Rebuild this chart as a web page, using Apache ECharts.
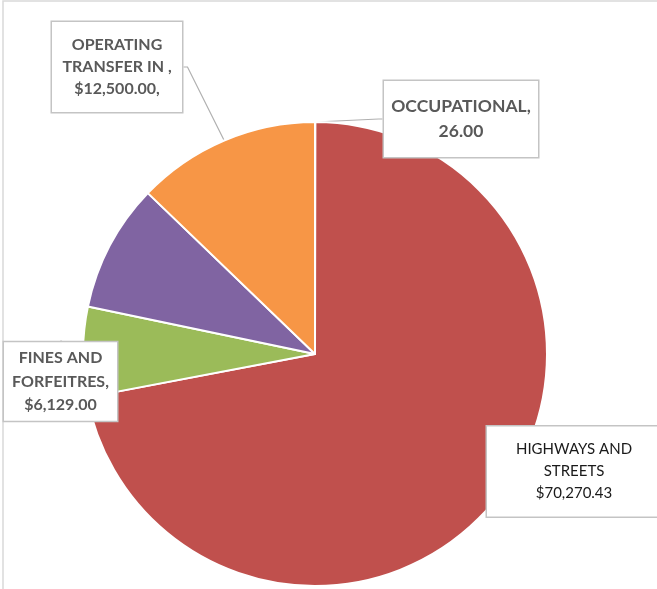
<!DOCTYPE html>
<html>
<head>
<meta charset="utf-8">
<script src="https://cdn.jsdelivr.net/npm/echarts@6/dist/echarts.min.js"></script>
<style>
  html, body { margin: 0; padding: 0; background: #fff; }
  #chart { width: 657px; height: 589px; }
</style>
</head>
<body>
<div id="chart"></div>
<script>
// Revenue by source
const categories = ['OCCUPATIONAL', 'HIGHWAYS AND STREETS', 'FINES AND FORFEITRES', 'OTHER', 'OPERATING TRANSFER IN '];
const values = [26.00, 70270.43, 6129.00, 8700.00, 12500.00];
const colors = ['#4F81BD', '#C0504D', '#9BBB59', '#8064A2', '#F79646'];

// Callout text for each slice (null = no label)
const labelTexts = [
  'OCCUPATIONAL,\n26.00',
  'HIGHWAYS AND\nSTREETS\n$70,270.43',
  'FINES AND\nFORFEITRES,\n$6,129.00',
  null,
  'OPERATING\nTRANSFER IN ,\n$12,500.00,'
];

// Callout box placement (centre of each box) and box styling
const calloutPos = [
  { x: 461, y: 119 },
  { x: 574, y: 471.5 },
  { x: 60.5, y: 381.5 },
  null,
  { x: 117, y: 67 }
];
const calloutStyle = [
  { fontSize: 17.5, fontWeight: 'bold', color: '#595959', lineHeight: 25, width: 154, padding: [13, 0] },
  { fontSize: 15, fontWeight: 'normal', color: '#1A1A1A', lineHeight: 22, width: 174, padding: [12, 0] },
  { fontSize: 16, fontWeight: 'bold', color: '#595959', lineHeight: 23.5, width: 113, padding: [4, 0] },
  null,
  { fontSize: 16, fontWeight: 'bold', color: '#595959', lineHeight: 22, width: 130, padding: [12, 0] }
];

const chart = echarts.init(document.getElementById('chart'), null, { renderer: 'canvas' });

const data = categories.map((name, i) => {
  const item = { name, value: values[i], itemStyle: { color: colors[i] } };
  if (labelTexts[i] === null) {
    item.label = { show: false };
    item.labelLine = { show: false };
  } else {
    const s = calloutStyle[i];
    item.label = {
      show: true,
      formatter: labelTexts[i],
      fontFamily: 'Lato',
      fontSize: s.fontSize,
      fontWeight: s.fontWeight,
      color: s.color,
      lineHeight: s.lineHeight,
      width: s.width,
      overflow: 'none',
      align: 'center',
      padding: s.padding,
      backgroundColor: '#FFFFFF',
      borderColor: '#C4C4C4',
      borderWidth: 1.5
    };
  }
  return item;
});

chart.setOption({
  animation: false,
  backgroundColor: '#FFFFFF',
  graphic: [{
    type: 'rect',
    shape: { x: 3, y: 1, width: 700, height: 700 },
    style: { fill: 'none', stroke: '#D9D9D9', lineWidth: 1.5 },
    silent: true,
    z: -1
  }],
  series: [{
    type: 'pie',
    center: [315, 354],
    radius: [0, 232],
    startAngle: 90,
    clockwise: true,
    avoidLabelOverlap: false,
    itemStyle: { borderColor: '#FFFFFF', borderWidth: 2 },
    label: { position: 'outside' },
    labelLine: {
      show: true,
      length: 6,
      length2: 4,
      lineStyle: { color: '#B0B0B0', width: 1.2 }
    },
    labelLayout: function (params) {
      const p = calloutPos[params.dataIndex];
      if (!p) return {};
      return { x: p.x, y: p.y, align: 'center', verticalAlign: 'middle' };
    },
    data: data
  }]
});
</script>
</body>
</html>
